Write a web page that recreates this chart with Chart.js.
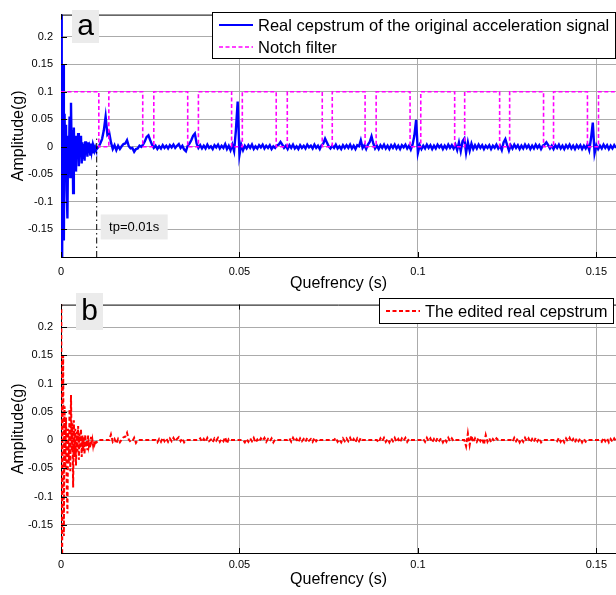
<!DOCTYPE html>
<html>
<head>
<meta charset="utf-8">
<script src="https://cdn.jsdelivr.net/npm/chart.js@4.4.0/dist/chart.umd.min.js"></script>
<style>
  html, body { margin: 0; padding: 0; background: #fff; }
  #wrap { position: relative; width: 616px; height: 595px; overflow: hidden; }
  canvas { position: absolute; left: 0; }
  #cA { top: 0; }
  #cB { top: 290px; }
</style>
</head>
<body>
<div id="wrap">
  <canvas id="cA" width="616" height="293"></canvas>
  <canvas id="cB" width="616" height="305"></canvas>
</div>
<script>
// axes
const xTicks = [0, 0.05, 0.1, 0.15];
const yTicks = [-0.15, -0.1, -0.05, 0, 0.05, 0.1, 0.15, 0.2];
const xMax = 0.1555;
const yMin = -0.2;
const yMax = 0.24;

// low quefrency part (0 .. 0.0098 s, every 0.0002 s), same in both signals
const lowStep = 0.0002;
const lowQuefrency = [
  0.9, -0.6, 0.02, 0.15, -0.17, 0.06, -0.05, 0.04, -0.08, -0.13,
  0.02, -0.04, 0.055, -0.055, 0.08, -0.02, 0.03, -0.084, 0.035, -0.03,
  0.02, -0.045, 0.015, -0.02, 0.025, -0.035, 0.012, -0.015, 0.02, -0.03,
  0.008, -0.02, 0.005, -0.025, 0.01, -0.012, 0, -0.018, 0.008, -0.01,
  -0.003, -0.014, 0.006, -0.008, 0, -0.01, -0.002, -0.007, -0.001, -0.005
];

// rest of the signal (0.01 .. 0.1555 s, every 0.0005 s)
const highStart = 0.01;
const highStep = 0.0005;
const originalHigh = [
  -0.004, 0, 0.006, 0.014, 0.03, 0.055, 0.022, 0.026, 0.008, -0.004, 0.003, -0.006, 0.002, -0.004, 0.001, 0.005, 0.006, 0.012, 0.001, -0.003,
  -0.002, -0.009, -0.004, -0.003, 0.002, 0, 0.004, 0.01, 0.018, 0.021, 0.012, 0.004, -0.002, 0.002, -0.004, 0.001, -0.003, 0.003, -0.002, 0.002,
  -0.003, 0.003, -0.001, 0.004, -0.002, 0.002, 0.005, -0.002, 0.002, -0.005, -0.008, 0.002, 0.006, 0.012, 0.02, 0.024, 0.006, -0.002, 0.003, -0.003,
  0.002, -0.003, 0.004, -0.002, 0.001, -0.004, 0.003, -0.001, 0.004, -0.003, 0.002, -0.002, 0.005, -0.004, 0.002, -0.006, 0.004, -0.008, 0.03, 0.082,
  -0.015, 0.004, -0.006, 0.002, -0.003, 0.003, -0.002, 0.004, -0.004, 0.001, -0.003, 0.003, -0.001, 0.004, -0.003, 0.002, -0.002, 0.003, -0.004, 0.001,
  -0.002, 0.003, 0.004, 0.009, 0.004, -0.002, 0.002, -0.004, 0.003, -0.002, 0.004, -0.003, 0.001, -0.004, 0.003, -0.002, 0.002, -0.003, 0.004, -0.001,
  0.002, -0.003, 0.004, -0.002, 0.002, -0.004, 0.003, 0.006, 0.015, 0.008, 0.001, -0.003, 0.002, -0.002, 0.004, -0.003, 0.001, -0.004, 0.003, -0.002,
  0.003, -0.002, 0.004, -0.003, 0.002, -0.004, 0.003, 0.001, 0.012, -0.002, 0.003, -0.004, 0.004, 0.009, 0.019, 0.006, -0.003, 0.002, -0.004, 0.003,
  -0.002, 0.004, -0.003, 0.002, -0.004, 0.003, -0.002, 0.004, -0.003, 0.002, -0.004, 0.003, -0.001, 0.004, -0.003, 0.002, -0.005, 0.004, 0.02, 0.049,
  -0.011, 0.003, -0.004, 0.002, -0.003, 0.004, -0.002, 0.003, -0.004, 0.002, -0.003, 0.004, -0.001, 0.003, -0.004, 0.002, -0.003, 0.004, -0.002, 0.003,
  -0.003, 0.004, -0.006, 0.008, -0.008, 0.01, 0.015, -0.011, 0.008, -0.007, 0.006, -0.004, 0.003, -0.003, 0.004, -0.002, 0.003, -0.004, 0.002, -0.002,
  0.003, -0.004, 0.002, -0.002, 0.004, -0.003, 0.002, -0.006, 0.008, 0.014, 0.003, -0.007, 0.003, -0.003, 0.004, -0.002, 0.003, -0.004, 0.002, -0.003,
  0.004, -0.002, 0.003, -0.004, 0.002, -0.003, 0.004, -0.002, 0.003, -0.004, 0.002, 0.004, 0.008, 0.003, -0.003, 0.002, -0.004, 0.003, -0.002, 0.004,
  -0.003, 0.002, -0.004, 0.003, -0.002, 0.004, -0.003, 0.002, -0.004, 0.003, -0.002, 0.003, -0.004, 0.002, -0.003, 0.004, -0.006, 0.015, 0.044, -0.012,
  0.003, -0.004, 0.002, -0.003, 0.004, -0.002, 0.003, -0.004, 0.002, -0.003, 0.003, -0.002
];
const editedHigh = [
  -0.004, 0, 0, 0, 0, 0, 0, 0, 0.01, -0.003, 0.002, -0.006, 0.002, -0.004, 0.001, 0.005, 0.006, 0.013, 0.001, -0.003,
  -0.002, 0.004, -0.005, 0, 0, 0, 0, 0, 0, 0, 0, 0, 0, 0, -0.004, 0.002, -0.003, 0.004, -0.002, 0.003,
  -0.003, 0.003, -0.002, 0.004, -0.002, 0.002, 0.005, -0.002, 0.003, -0.004, 0, 0, 0, 0, 0, 0, 0, 0, 0.003, -0.003,
  0.002, -0.003, 0.004, -0.002, 0.001, -0.004, 0.003, -0.001, 0.004, -0.003, 0.002, -0.002, 0.005, -0.006, 0.002, 0, 0, 0, 0, 0,
  0, 0, 0, -0.004, 0.002, -0.003, 0.003, -0.002, 0.004, -0.004, 0.001, -0.003, 0.003, -0.001, 0.004, -0.003, 0.002, -0.002, 0.003, -0.004,
  0.001, 0, 0, 0, 0, 0, 0, 0, 0.003, -0.003, 0.004, -0.002, 0.002, -0.004, 0.003, -0.002, 0.002, -0.003, 0.004, -0.001,
  0.002, -0.003, 0.004, -0.002, 0.002, 0, 0, 0, 0, 0, 0, 0, 0, 0, 0.004, -0.003, 0.001, -0.004, 0.003, -0.002,
  0.003, -0.002, 0.004, -0.003, 0.002, -0.004, 0.003, -0.002, 0.004, 0, 0, 0, 0, 0, 0, 0, 0, 0, -0.004, 0.003,
  -0.002, 0.004, -0.003, 0.002, -0.004, 0.003, -0.002, 0.004, -0.003, 0.002, -0.004, 0.003, -0.001, 0.004, -0.003, 0.002, 0, 0, 0, 0,
  0, 0, 0, 0.002, -0.003, 0.004, -0.002, 0.003, -0.004, 0.002, -0.003, 0.004, -0.001, 0.003, -0.004, 0.002, -0.003, 0.004, -0.002, 0.003,
  -0.002, 0, 0, 0, 0, 0, 0, -0.011, 0.012, -0.009, 0.008, -0.004, 0.003, -0.003, 0.004, -0.002, 0.003, -0.008, 0.009, -0.003,
  0.003, -0.004, 0.002, -0.002, 0.003, 0, 0, 0, 0, 0, 0, 0, 0, -0.003, 0.004, -0.002, 0.003, -0.004, 0.002, -0.003,
  0.004, -0.002, 0.003, -0.004, 0.002, -0.003, 0.004, -0.002, 0.003, -0.004, 0, 0, 0, 0, 0, 0, 0, 0, -0.002, 0.004,
  -0.003, 0.002, -0.004, 0.003, -0.002, 0.004, -0.003, 0.002, -0.004, 0.003, -0.002, 0.003, -0.004, 0.002, -0.003, 0, 0, 0, 0, 0,
  0, 0, 0, -0.003, 0.004, -0.002, 0.003, -0.004, 0.002, -0.003, 0.003, -0.002
];

// notch filter: passes at 0.1, drops to 0 between start and end
const notchLevel = 0.1;
const notchStart = [0.0106, 0.0229, 0.0355, 0.0478, 0.0603, 0.0732, 0.0852, 0.0978, 0.1103, 0.1229, 0.1352, 0.1475];
const notchEnd   = [0.0134, 0.0260, 0.0385, 0.0508, 0.0634, 0.0760, 0.0883, 0.1008, 0.1131, 0.1257, 0.1380, 0.1506];

// pitch marker
const tp = 0.01;
const tpTop = 0.015;
const tpLabel = 'tp=0.01s';

const family = '"Liberation Sans", Arial, sans-serif';
const gridColor = '#ababab';

const toPoints = (vals, start, step) => vals.map((v, i) => ({ x: +(start + i * step).toFixed(5), y: v }));
const signal = high => toPoints(lowQuefrency, 0, lowStep).concat(toPoints(high, highStart, highStep));

const notchPoints = [{ x: 0, y: notchLevel }];
notchStart.forEach((s, i) => {
  notchPoints.push({ x: s, y: notchLevel }, { x: s, y: 0 }, { x: notchEnd[i], y: 0 }, { x: notchEnd[i], y: notchLevel });
});
notchPoints.push({ x: xMax, y: notchLevel });

const fmt = v => String(+v.toFixed(2));

// frame, inward ticks, letter box, legend box
const frame = {
  id: 'frame',
  afterDraw(chart, args, opts) {
    const { ctx, chartArea: a, scales: { x, y } } = chart;
    ctx.save();
    ctx.strokeStyle = '#000';
    ctx.lineWidth = 1;
    ctx.setLineDash([]);
    ctx.beginPath();
    ctx.moveTo(a.left, a.top + 0.5);
    ctx.lineTo(a.right, a.top + 0.5);
    xTicks.forEach(v => {
      const px = Math.round(x.getPixelForValue(v)) + 0.5;
      ctx.moveTo(px, a.bottom); ctx.lineTo(px, a.bottom - 5);
      ctx.moveTo(px, a.top); ctx.lineTo(px, a.top + 5);
    });
    yTicks.forEach(v => {
      const py = Math.round(y.getPixelForValue(v)) + 0.5;
      ctx.moveTo(a.left, py); ctx.lineTo(a.left + 6, py);
    });
    ctx.stroke();

    // panel letter
    const [lx, ly, lw, lh] = opts.letterBox;
    ctx.fillStyle = '#ebebeb';
    ctx.fillRect(lx, ly, lw, lh);
    ctx.fillStyle = '#000';
    ctx.font = '30px ' + family;
    ctx.textAlign = 'center';
    ctx.textBaseline = 'middle';
    ctx.fillText(opts.letter, lx + lw / 2, ly + lh / 2);

    // pitch label
    if (opts.tpBox) {
      const bx = x.getPixelForValue(tp) + 4;
      const by = y.getPixelForValue(-0.15) - 15;
      ctx.fillStyle = '#ebebeb';
      ctx.fillRect(bx, by, 67, 25);
      ctx.fillStyle = '#000';
      ctx.font = '13px ' + family;
      ctx.fillText(tpLabel, bx + 33.5, by + 13);
    }

    // legend
    const [gx, gy, gw, gh] = opts.legendBox;
    ctx.fillStyle = '#fff';
    ctx.fillRect(gx, gy, gw, gh);
    ctx.strokeStyle = '#000';
    ctx.lineWidth = 1;
    ctx.strokeRect(gx + 0.5, gy + 0.5, gw, gh);
    ctx.font = '16.5px ' + family;
    ctx.textAlign = 'left';
    opts.rows.forEach(r => {
      const ds = chart.data.datasets[r.dataset];
      ctx.strokeStyle = ds.borderColor;
      ctx.lineWidth = Math.min(ds.borderWidth, 2);
      ctx.setLineDash(ds.borderDash || []);
      ctx.beginPath();
      ctx.moveTo(gx + 7, r.y); ctx.lineTo(gx + 41, r.y);
      ctx.stroke();
      ctx.setLineDash([]);
      ctx.fillStyle = '#000';
      ctx.fillText(ds.label, gx + 46, r.y + 1);
    });
    ctx.restore();
  }
};

function makeChart(id, datasets, cfg) {
  return new Chart(document.getElementById(id), {
    type: 'line',
    data: { datasets },
    plugins: [frame],
    options: {
      responsive: false,
      animation: false,
      devicePixelRatio: 1,
      parsing: false,
      layout: { padding: { top: cfg.top, right: 0, left: 0, bottom: 0 } },
      elements: { point: { radius: 0 }, line: { tension: 0 } },
      plugins: { legend: { display: false }, tooltip: { enabled: false }, frame: cfg.frame },
      scales: {
        x: {
          type: 'linear', min: 0, max: xMax,
          afterFit: s => { s.height = cfg.xHeight; },
          afterBuildTicks: s => { s.ticks = xTicks.map(v => ({ value: v })); },
          ticks: { padding: cfg.xTickPad, color: '#000', maxRotation: 0, font: { size: 11, family }, callback: v => fmt(v) },
          grid: { color: gridColor, drawTicks: false },
          border: { color: '#000', width: 1 },
          title: { display: true, text: 'Quefrency (s)', color: '#000', font: { size: 16, family }, padding: { top: 0, bottom: cfg.titlePad } }
        },
        y: {
          type: 'linear', min: yMin, max: yMax,
          afterFit: s => { s.width = 61; },
          afterBuildTicks: s => { s.ticks = yTicks.map(v => ({ value: v })); },
          ticks: { padding: 8, color: '#000', font: { size: 11, family }, callback: v => fmt(v) },
          grid: { color: gridColor, drawTicks: false },
          border: { color: '#000', width: 1 },
          title: { display: true, text: 'Amplitude(g)', color: '#000', font: { size: 16, family }, padding: { top: 8.5, bottom: 0 } }
        }
      }
    }
  });
}

makeChart('cA', [
  { label: 'Real cepstrum of the original acceleration signal', data: signal(originalHigh),
    borderColor: '#0000ff', borderWidth: 2.4, order: 3 },
  { label: 'Notch filter', data: notchPoints,
    borderColor: '#ff00ff', borderWidth: 1.6, borderDash: [4, 2.5], order: 2 },
  { label: 'tp', data: [{ x: tp, y: yMin }, { x: tp, y: tpTop }],
    borderColor: '#000', borderWidth: 1, borderDash: [6, 3, 1.5, 3], order: 1 }
], {
  top: 5, xHeight: 36, xTickPad: 8, titlePad: 0,
  frame: { letter: 'a', letterBox: [72, 10, 27, 33], tpBox: true, legendBox: [212, 12, 403, 46],
           rows: [{ dataset: 0, y: 25 }, { dataset: 1, y: 47 }] }
});

makeChart('cB', [
  { label: 'The edited real cepstrum', data: signal(editedHigh),
    borderColor: '#ff0000', borderWidth: 2, borderDash: [4, 2.5] }
], {
  top: 2, xHeight: 42, xTickPad: 5, titlePad: 6,
  frame: { letter: 'b', letterBox: [76, 3, 27, 37], tpBox: false, legendBox: [379, 8, 234, 25],
           rows: [{ dataset: 0, y: 21 }] }
});
</script>
</body>
</html>
